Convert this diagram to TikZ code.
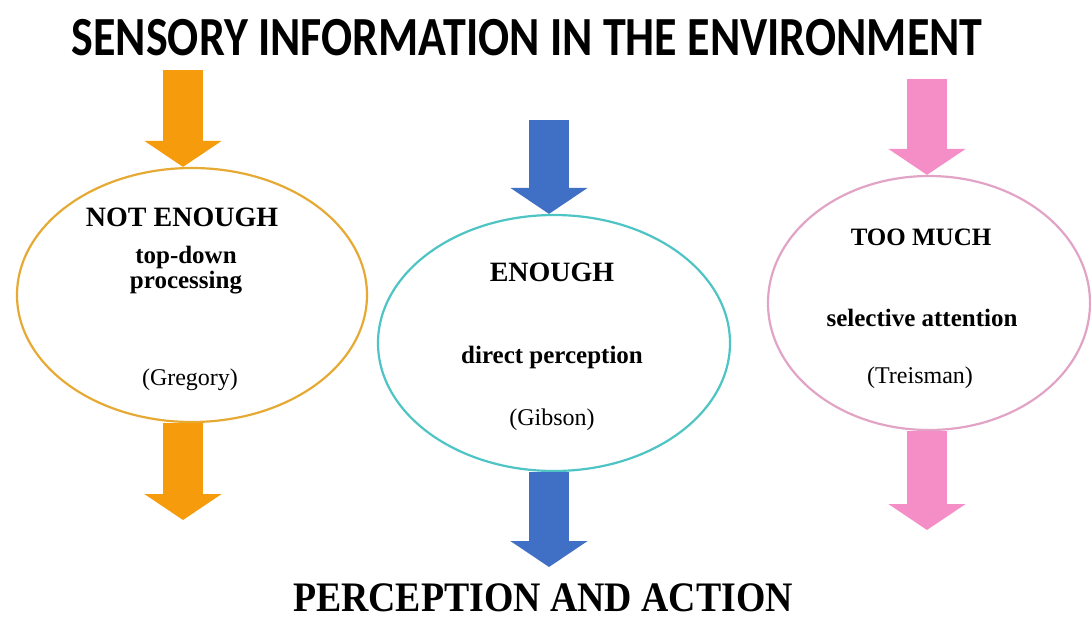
\documentclass[tikz,border=0pt]{standalone}
\usepackage{fontspec}
\setmainfont{Liberation Serif}
\newfontfamily\titlefont{Carlito}
\usetikzlibrary{shapes.geometric,arrows.meta}
\definecolor{orA}{HTML}{F59B0C}
\definecolor{orE}{HTML}{E6AA34}
\definecolor{blA}{HTML}{3F70C6}
\definecolor{cyE}{HTML}{4EC4C4}
\definecolor{pkA}{HTML}{F58EC6}
\definecolor{pkE}{HTML}{E2A4C6}
\tikzset{
  barrow/.style={line width=40pt,-{Triangle[length=26pt,width=76pt]}},
  ell/.style={ellipse,fill=white,line width=2.2pt,inner sep=0pt},
  hd/.style={font=\bfseries\fontsize{28}{32}\selectfont},
  sub/.style={font=\bfseries\fontsize{25}{27}\selectfont,align=center},
  ref/.style={font=\fontsize{24}{28}\selectfont}
}
\begin{document}
\begin{tikzpicture}[x=1pt,y=-1pt]
\useasboundingbox (0,0) rectangle (1091,621);
\fill[white] (0,0) rectangle (1091,621);

\node[font=\titlefont\bfseries\fontsize{46}{50}\selectfont] (title) at (527,38) {\scalebox{1}[1.2]{SENSORY INFORMATION IN THE ENVIRONMENT}};
\node[font=\bfseries\fontsize{42}{46}\selectfont,inner sep=1pt] (bottom) at (543,598) {\scalebox{0.9}[1]{PERCEPTION AND ACTION}};

% ellipses
\node[ell,draw=orE,minimum width=350pt,minimum height=254pt] (e1) at (192,295) {};
\node[ell,draw=cyE,minimum width=352pt,minimum height=256pt] (e2) at (554,343) {};
\node[ell,draw=pkE,minimum width=322pt,minimum height=254pt] (e3) at (929,303) {};

% coordinates for arrow ends
\coordinate (a1) at (183,70);
\coordinate (a2) at (549,120);
\coordinate (a3) at (927,79);
\coordinate (b1) at (183,520);
\coordinate (b2) at (549,567);
\coordinate (b3) at (927,530);

\draw[barrow,orA] (a1) -- (e1.north -| a1);
\draw[barrow,blA] (a2) -- (e2.north -| a2);
\draw[barrow,pkA] (a3) -- (e3.north -| a3);
\draw[barrow,orA] (e1.south -| b1) -- (b1);
\draw[barrow,blA] (e2.south -| b2) -- (b2);
\draw[barrow,pkA] (e3.south -| b3) -- (b3);

% texts
\node[hd] (t1) at (182,217) {NOT ENOUGH};
\node[sub] (s1) at (186,270) {top-down\\[-2pt]processing};
\node[ref] (r1) at (190,380) {(Gregory)};

\node[hd] (t2) at (552,272) {ENOUGH};
\node[sub] (s2) at (552,357) {direct perception};
\node[ref] (r2) at (552,420) {(Gibson)};

\node[hd,font=\bfseries\fontsize{25}{28}\selectfont] (t3) at (921,237) {TOO MUCH};
\node[sub] (s3) at (922,318) {selective attention};
\node[ref] (r3) at (920,378) {(Treisman)};
\end{tikzpicture}
\end{document}
